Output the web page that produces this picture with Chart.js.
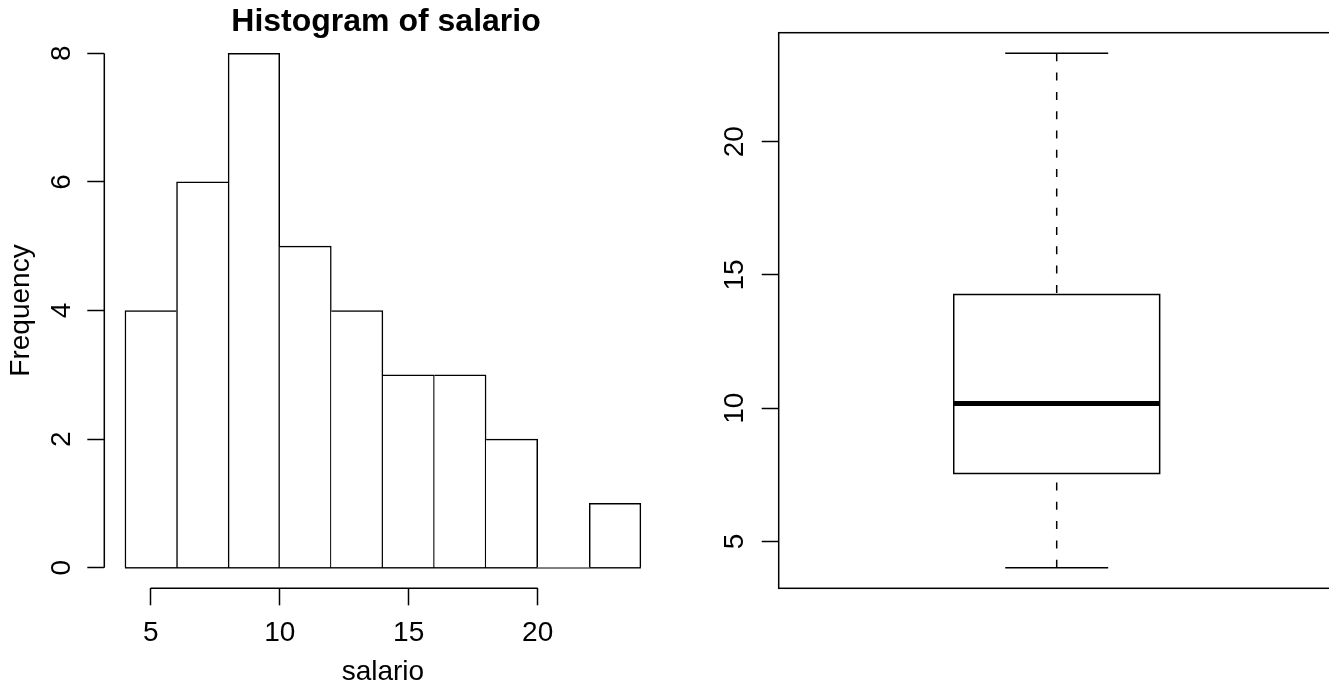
<!DOCTYPE html>
<html><head><meta charset="utf-8">
<script src="https://cdn.jsdelivr.net/npm/chart.js@4/dist/chart.umd.min.js"></script>
<style>
html,body{margin:0;padding:0;background:#fff;overflow:hidden;width:1329px;height:689px;position:relative;}
canvas{position:absolute;top:0;}
#hist{left:0;}
#box{left:660px;}
</style></head><body>
<canvas id="hist" width="772" height="689"></canvas>
<canvas id="box" width="700" height="689"></canvas>
<script>
// ---------- data ----------
const binEdges = [4, 6, 8, 10, 12, 14, 16, 18, 20, 22, 24];
const binCounts = [4, 6, 8, 5, 4, 3, 3, 2, 0, 1];
const histXTicks = [5, 10, 15, 20];
const histYTicks = [0, 2, 4, 6, 8];
const boxStatNames = ['min', 'q1', 'median', 'q3', 'max'];
const boxStats = [4.01, 7.55, 10.17, 14.27, 23.32];
const boxYTicks = [5, 10, 15, 20];
const histTitle = 'Histogram of salario';
const xLabel = 'salario';
const yLabel = 'Frequency';

// ---------- styling / geometry ----------
const FONT = "'Liberation Sans', Arial, Helvetica, sans-serif";
const FS = 28;
const LW = 1.5;
const TICK = 17;
const H = 689;
const AREA_TOP = 32.7, AREA_BOTTOM = 588.3;
Chart.defaults.font.family = FONT;
Chart.defaults.color = '#000';

const ext = (lo, hi) => [lo - (hi - lo) * 0.04, hi + (hi - lo) * 0.04];
const fixedTicks = arr => (s => { s.ticks = arr.map(v => ({value: v})); });

const rAxes = {
  id: 'rAxes',
  afterDraw(chart, args, opts) {
    const ctx = chart.ctx, a = chart.chartArea;
    ctx.save();
    ctx.strokeStyle = '#000'; ctx.lineWidth = LW; ctx.lineCap = 'butt';
    if (opts.frame) ctx.strokeRect(a.left, a.top, a.right - a.left, a.bottom - a.top);
    (opts.axes || []).forEach(id => {
      const s = chart.scales[id], t = s.ticks;
      const p0 = s.getPixelForValue(t[0].value), p1 = s.getPixelForValue(t[t.length - 1].value);
      ctx.beginPath();
      if (s.isHorizontal()) { ctx.moveTo(p0, s.top); ctx.lineTo(p1, s.top); }
      else { ctx.moveTo(s.right, p0); ctx.lineTo(s.right, p1); }
      ctx.stroke();
    });
    ctx.restore();
  }
};

const tickGrid = {display: true, offset: false, drawOnChartArea: false, drawTicks: true, tickLength: TICK, tickWidth: LW, tickColor: '#000'};

// ---------- histogram ----------
const hx = ext(binEdges[0], binEdges[binEdges.length - 1]);
const hy = ext(0, Math.max(...binCounts));
const HIST_W = 772, HIST_RIGHT = 661.5, HIST_LEFT = 104.3;

new Chart(document.getElementById('hist'), {
  type: 'bar',
  data: {
    datasets: [
      {
        type: 'bar',
        data: binCounts.map((c, i) => ({x: (binEdges[i] + binEdges[i + 1]) / 2, y: c})),
        backgroundColor: '#fff',
        borderColor: '#000',
        borderSkipped: false,
        borderWidth: (ctx) => {
          const i = ctx.dataIndex, c = binCounts[i];
          return {
            top: LW, bottom: 0,
            left: (i === 0 || binCounts[i - 1] < c) ? LW : 0,
            right: (i === binCounts.length - 1 || binCounts[i + 1] <= c) ? LW : 0
          };
        },
        barPercentage: 1, categoryPercentage: 1, grouped: false
      },
      {
        type: 'line',
        data: [{x: binEdges[0], y: 0}, {x: binEdges[binEdges.length - 1], y: 0}],
        borderColor: '#000', borderWidth: LW, pointRadius: 0, fill: false
      }
    ]
  },
  options: {
    responsive: false, animation: false, devicePixelRatio: 1,
    layout: {padding: 0},
    plugins: {
      legend: {display: false}, tooltip: {enabled: false},
      title: {display: true, text: histTitle, color: '#000',
        font: {family: FONT, size: 32, weight: 'bold', lineHeight: 0.6},
        padding: {top: 12.6, bottom: AREA_TOP - 12.6 - 19.2}},
      rAxes: {axes: ['x', 'y']}
    },
    scales: {
      x: {
        type: 'linear', position: 'bottom', min: hx[0], max: hx[1], offset: false,
        afterBuildTicks: fixedTicks(histXTicks),
        ticks: {font: {size: FS, lineHeight: 1.2}, padding: 11.5, color: '#000', maxRotation: 0, autoSkip: false},
        grid: tickGrid, border: {display: false},
        title: {display: true, text: xLabel, color: '#000', font: {size: FS, lineHeight: 1.2}, padding: {top: 0, bottom: 0}},
        afterFit(s) { s.height = H - AREA_BOTTOM; s.paddingLeft = 0; s.paddingRight = 0; }
      },
      y: {
        type: 'linear', position: 'left', min: hy[0], max: hy[1],
        afterBuildTicks: fixedTicks(histYTicks),
        ticks: {font: {size: FS, lineHeight: 1.2}, padding: 17.2, color: '#000', minRotation: 90, maxRotation: 90, crossAlign: 'center', autoSkip: false},
        grid: tickGrid, border: {display: false},
        title: {display: true, text: yLabel, color: '#000', font: {size: FS, lineHeight: 1.2}, padding: {top: 4.5, bottom: 0}},
        afterFit(s) { s.width = HIST_LEFT; s.paddingTop = 0; s.paddingBottom = 0; }
      },
      yR: {
        type: 'linear', position: 'right', display: true,
        ticks: {display: false}, grid: {display: false, drawTicks: false}, border: {display: false},
        afterFit(s) { s.width = HIST_W - HIST_RIGHT; s.paddingTop = 0; s.paddingBottom = 0; }
      }
    }
  },
  plugins: [rAxes]
});

// ---------- boxplot ----------
const [bMin, bQ1, bMed, bQ3, bMax] = boxStats;
const by = ext(bMin, bMax);
const bx = ext(0.5, 1.5);
const CX = 1, BOX_HALF = 0.2, STAPLE_HALF = 0.1;
const BOX_W = 700, BOX_LEFT = 118.7, BOX_RIGHT = 674.7;

const seg = (pts, extra) => Object.assign({
  type: 'scatter', data: pts, showLine: true, borderColor: '#000', borderWidth: LW,
  pointRadius: 0, fill: false, tension: 0, borderJoinStyle: 'miter'
}, extra || {});

new Chart(document.getElementById('box'), {
  type: 'scatter',
  data: {
    datasets: [
      seg([{x: CX, y: bMax}, {x: CX, y: bQ3}], {borderDash: [8, 11.3]}),
      seg([{x: CX, y: bMin}, {x: CX, y: bQ1}], {borderDash: [8, 11.3]}),
      seg([{x: CX - STAPLE_HALF, y: bMax}, {x: CX + STAPLE_HALF, y: bMax}]),
      seg([{x: CX - STAPLE_HALF, y: bMin}, {x: CX + STAPLE_HALF, y: bMin}]),
      seg([{x: CX - BOX_HALF, y: bQ1}, {x: CX - BOX_HALF, y: bQ3}, {x: CX + BOX_HALF, y: bQ3},
           {x: CX + BOX_HALF, y: bQ1}, {x: CX - BOX_HALF, y: bQ1}, {x: CX - BOX_HALF, y: bQ3}]),
      seg([{x: CX - BOX_HALF, y: bMed}, {x: CX + BOX_HALF, y: bMed}], {borderWidth: 5})
    ]
  },
  options: {
    responsive: false, animation: false, devicePixelRatio: 1,
    layout: {padding: {top: AREA_TOP, bottom: H - AREA_BOTTOM, left: 0, right: BOX_W - BOX_RIGHT}},
    plugins: {legend: {display: false}, tooltip: {enabled: false}, rAxes: {frame: true}},
    scales: {
      x: {type: 'linear', min: bx[0], max: bx[1], display: false},
      y: {
        type: 'linear', position: 'left', min: by[0], max: by[1],
        afterBuildTicks: fixedTicks(boxYTicks),
        ticks: {font: {size: FS, lineHeight: 1.2}, padding: 10.8, color: '#000', minRotation: 90, maxRotation: 90, crossAlign: 'center', autoSkip: false},
        grid: tickGrid, border: {display: false},
        afterFit(s) { s.width = BOX_LEFT; s.paddingTop = 0; s.paddingBottom = 0; }
      }
    }
  },
  plugins: [rAxes]
});
</script>
</body></html>
